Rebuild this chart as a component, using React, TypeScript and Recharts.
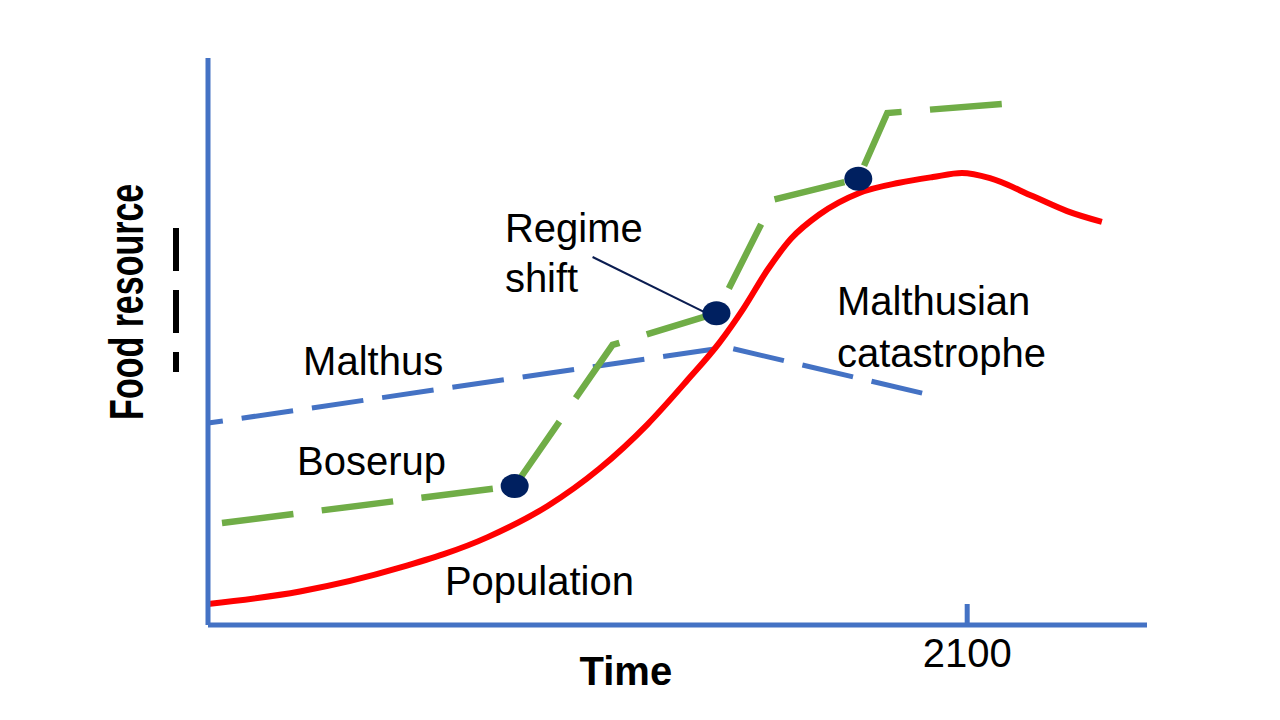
import React from 'react';
import { LineChart, Line, XAxis, YAxis, ReferenceDot, ReferenceLine, Label } from 'recharts';

// time (year) vs. relative level
const population = [
  { t: 1910, v: 3.7 },
  { t: 1933, v: 5.9 },
  { t: 1958, v: 10.1 },
  { t: 1980, v: 15.5 },
  { t: 1995, v: 21.0 },
  { t: 2008, v: 27.6 },
  { t: 2020, v: 35.4 },
  { t: 2030, v: 43.2 },
  { t: 2038, v: 49.8 },
  { t: 2044, v: 55.8 },
  { t: 2050, v: 62.6 },
  { t: 2056, v: 68.2 },
  { t: 2063, v: 72.4 },
  { t: 2073, v: 76.2 },
  { t: 2083, v: 78.0 },
  { t: 2091.4, v: 79.0 },
  { t: 2098.7, v: 79.7 },
  { t: 2105.7, v: 78.8 },
  { t: 2116.5, v: 75.6 },
  { t: 2125, v: 73.0 },
  { t: 2133.7, v: 71.1 },
];

const malthus = [
  { t: 1910, v: 35.6 },
  { t: 2039.75, v: 49.0 },
  { t: 2090.5, v: 40.6 },
];

const boserup = [
  { t: 1913.5, v: 18.0 },
  { t: 1986.75, v: 24.5 },
  { t: 2011.25, v: 49.4 },
  { t: 2037.25, v: 55.0 },
  { t: 2051.5, v: 75.0 },
  { t: 2072.75, v: 78.7 },
  { t: 2080, v: 90.3 },
  { t: 2108.75, v: 91.9 },
];

const regimeShifts = [
  { t: 1986.75, v: 24.5 },
  { t: 2037.25, v: 55.0 },
  { t: 2072.75, v: 78.7 },
];

const notes = [
  { t: 1933.8, v: 46.6, text: 'Malthus' },
  { t: 1932.3, v: 29.0, text: 'Boserup' },
  { t: 1969.3, v: 7.8, text: 'Population' },
  { t: 1984.3, v: 70.1, text: 'Regime' },
  { t: 1984.3, v: 61.3, text: 'shift' },
  { t: 2067.4, v: 57.2, text: 'Malthusian' },
  { t: 2067.4, v: 48.0, text: 'catastrophe' },
];

const pointer = [
  { t: 2006.25, v: 64.9 },
  { t: 2034.75, v: 55.0 },
];

const timeTicks = [2100];

const FONT = '"Liberation Sans", Arial, sans-serif';
const AXIS = '#4472C4';

const TimeTick = (props: any) => {
  const { x, y, payload } = props;
  return (
    <g>
      <line x1={x} x2={x} y1={y - 21} y2={y} stroke={AXIS} strokeWidth={5} />
      <text x={x} y={y + 42} textAnchor="middle" fontSize={40} fill="#000" fontFamily={FONT}>
        {payload.value}
      </text>
    </g>
  );
};

const timeLabel = (props: any) => {
  const vb = props.viewBox;
  return (
    <text x={vb.x + vb.width * 0.445} y={vb.y + 60} textAnchor="middle" fontSize={40} fontWeight="bold" fill="#000" fontFamily={FONT}>
      Time
    </text>
  );
};

const foodLabel = (props: any) => {
  const vb = props.viewBox;
  const ax = vb.x + vb.width;
  const cy = vb.y + vb.height * 0.43;
  return (
    <g>
      <text
        transform={`translate(${ax - 65},${cy}) scale(1.4,1) rotate(-90)`}
        textAnchor="middle"
        fontSize={34}
        fontWeight="bold"
        fill="#000"
        fontFamily={FONT}
      >
        Food resource
      </text>
      <line x1={ax - 32} x2={ax - 32} y1={vb.y + 170} y2={vb.y + 314} stroke="#000" strokeWidth={6} strokeDasharray="43 19" />
    </g>
  );
};

export default function App() {
  return (
    <div style={{ width: 1280, height: 720, background: '#fff', fontFamily: FONT }}>
      <style>{'body{margin:0}'}</style>
      <LineChart width={1280} height={720} margin={{ top: 58, right: 133, bottom: 35, left: 206 }}>
        <XAxis
          dataKey="t"
          type="number"
          domain={[1910, 2145]}
          ticks={timeTicks}
          allowDataOverflow
          height={60}
          axisLine={{ stroke: AXIS, strokeWidth: 5 }}
          tickLine={false}
          tickSize={0}
          tickMargin={0}
          tick={<TimeTick />}
        >
          <Label content={timeLabel} />
        </XAxis>
        <YAxis
          type="number"
          domain={[0, 100]}
          width={2}
          tick={false}
          tickLine={false}
          axisLine={{ stroke: AXIS, strokeWidth: 5 }}
        >
          <Label content={foodLabel} />
        </YAxis>
        <Line data={malthus} dataKey="v" type="linear" stroke={AXIS} strokeWidth={5} strokeDasharray="52 19" strokeDashoffset={37} dot={false} isAnimationActive={false} />
        <Line data={boserup} dataKey="v" type="linear" stroke="#70AD47" strokeWidth={6.5} strokeDasharray="72 28.5" dot={false} isAnimationActive={false} />
        <Line data={population} dataKey="v" type="monotone" stroke="#FF0000" strokeWidth={6} dot={false} isAnimationActive={false} />
        <ReferenceLine segment={[{ x: pointer[0].t, y: pointer[0].v }, { x: pointer[1].t, y: pointer[1].v }]} stroke="#0B1D51" strokeWidth={2} ifOverflow="visible" />
        {regimeShifts.map((d, i) => (
          <ReferenceDot
            key={`rs-${i}`}
            x={d.t}
            y={d.v}
            r={13}
            ifOverflow="visible"
            shape={(p: any) => <ellipse cx={p.cx} cy={p.cy} rx={14} ry={12} fill="#002060" />}
          />
        ))}
        {notes.map((n, i) => (
          <ReferenceDot
            key={`n-${i}`}
            x={n.t}
            y={n.v}
            r={0}
            fill="none"
            stroke="none"
            ifOverflow="visible"
            label={{ value: n.text, position: 'right', offset: 0, fontSize: 40, fill: '#000', fontFamily: FONT }}
          />
        ))}
      </LineChart>
    </div>
  );
}
